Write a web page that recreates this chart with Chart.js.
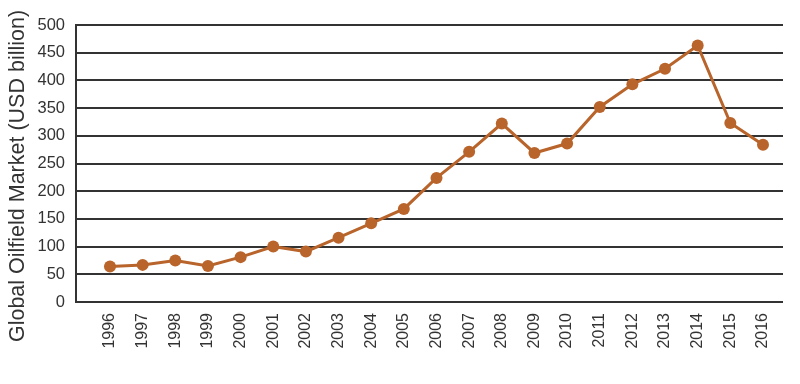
<!DOCTYPE html>
<html>
<head>
<meta charset="utf-8">
<script src="https://cdn.jsdelivr.net/npm/chart.js@4"></script>
<style>
  html, body { margin: 0; padding: 0; background: #fff; }
  #wrap { width: 800px; height: 384px; }
</style>
</head>
<body>
<div id="wrap"><canvas id="c" width="800" height="384"></canvas></div>
<script>
const years = [1996, 1997, 1998, 1999, 2000, 2001, 2002, 2003, 2004, 2005, 2006,
               2007, 2008, 2009, 2010, 2011, 2012, 2013, 2014, 2015, 2016];
const marketValues = [64, 67, 75, 65, 81, 100, 91, 116, 142, 168, 224,
                      271, 322, 269, 286, 352, 393, 421, 463, 323, 284];
const yTicks = [0, 50, 100, 150, 200, 250, 300, 350, 400, 450, 500];
const yTitle = 'Global Oilfield Market (USD billion)';

const FONT = "'Liberation Sans', Arial, Helvetica, sans-serif";
const ORANGE = '#b8642b';

const yTitlePlugin = {
  id: 'yTitle',
  afterDraw(chart) {
    const ctx = chart.ctx;
    ctx.save();
    ctx.translate(18, 176);
    ctx.rotate(-Math.PI / 2);
    ctx.font = '21.5px ' + FONT;
    ctx.fillStyle = '#333';
    ctx.textAlign = 'center';
    ctx.textBaseline = 'middle';
    ctx.fillText(yTitle, 0, 0);
    ctx.restore();
  }
};

new Chart(document.getElementById('c'), {
  type: 'line',
  data: {
    datasets: [{
      data: years.map((y, i) => ({ x: y, y: marketValues[i] })),
      borderColor: ORANGE,
      backgroundColor: ORANGE,
      pointBackgroundColor: ORANGE,
      pointBorderColor: ORANGE,
      borderWidth: 3,
      pointRadius: 6,
      pointBorderWidth: 0,
      tension: 0
    }]
  },
  options: {
    responsive: false,
    animation: false,
    layout: { padding: { left: 0, right: 17, top: 25, bottom: 0 } },
    plugins: { legend: { display: false }, tooltip: { enabled: false } },
    scales: {
      x: {
        type: 'linear',
        min: 1994.959,
        max: 2016.613,
        afterFit(s) { s.height = 82; },
        afterBuildTicks(s) { s.ticks = years.map(v => ({ value: v })); },
        grid: { display: false, drawTicks: false },
        border: { display: false },
        ticks: {
          autoSkip: false,
          minRotation: 90,
          maxRotation: 90,
          padding: 11,
          color: '#333',
          font: { family: FONT, size: 16 },
          callback: v => String(v)
        }
      },
      y: {
        min: 0,
        max: 500,
        afterFit(s) { s.width = 76; },
        afterBuildTicks(s) { s.ticks = yTicks.map(v => ({ value: v })); },
        grid: { color: '#333', lineWidth: 2, drawTicks: false },
        border: { display: true, color: '#333', width: 2 },
        ticks: {
          padding: 11,
          color: '#333',
          font: { family: FONT, size: 16.5 }
        }
      }
    }
  },
  plugins: [yTitlePlugin]
});
</script>
</body>
</html>
